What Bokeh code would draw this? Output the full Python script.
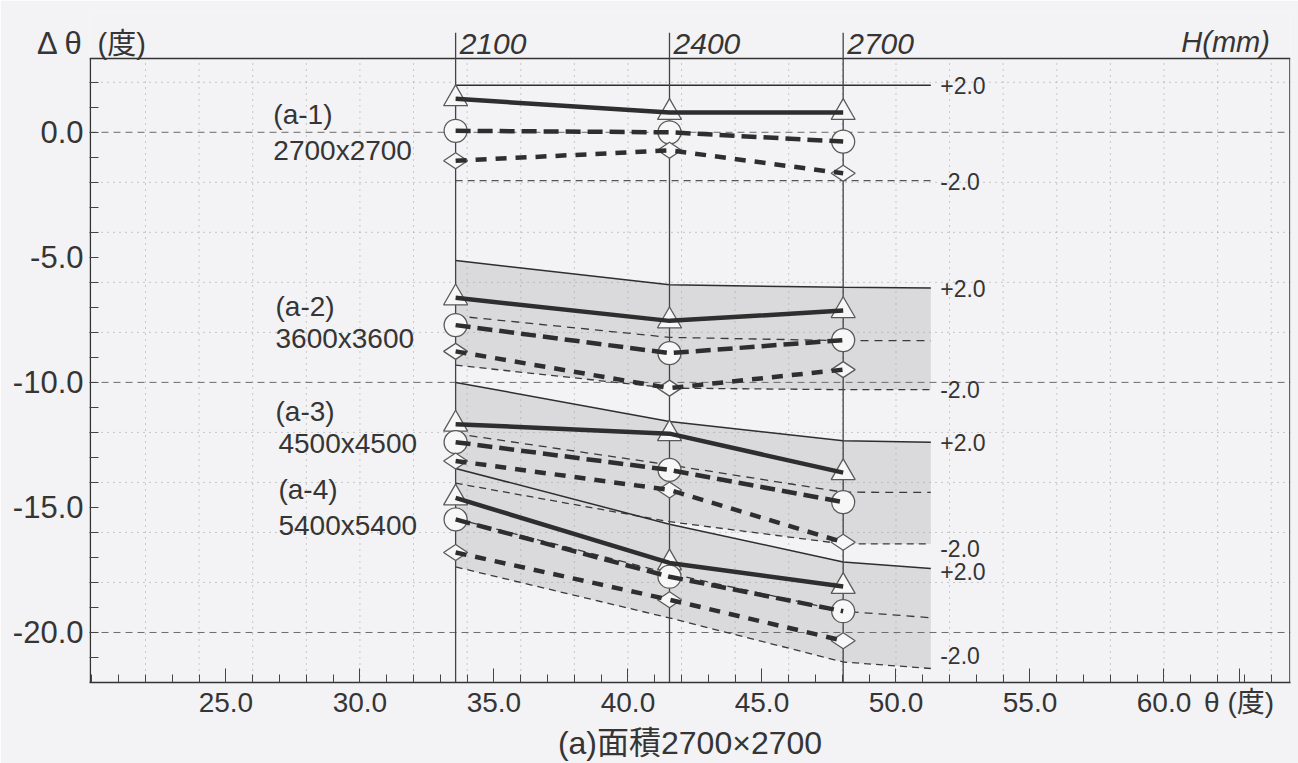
from math import pi
from bokeh.plotting import figure
from bokeh.models import Range1d, FixedTicker, PrintfTickFormatter
from bokeh.core.properties import value
from bokeh.embed import file_html
from bokeh.resources import INLINE

# ---------------- data ----------------
H_MM = [2100, 2400, 2700]                 # window height H (mm)
THETA_AT_H = [33.57, 41.55, 48.03]        # theta (deg) of each H line
BAND_END_THETA = 51.3                     # right end of the +-2.0 bands

GROUP_IDS = ["(a-1)", "(a-2)", "(a-3)", "(a-4)"]
GROUP_SIZES = ["2700x2700", "3600x3600", "4500x4500", "5400x5400"]

# three series per group (triangle / circle / diamond), values at 2100, 2400, 2700
a1_triangle = [1.34, 0.79, 0.79]
a1_circle = [0.06, 0.0, -0.37]
a1_diamond = [-1.14, -0.72, -1.64]

a2_triangle = [-6.62, -7.54, -7.13]
a2_circle = [-7.71, -8.83, -8.31]
a2_diamond = [-8.76, -10.23, -9.49]

a3_triangle = [-11.67, -12.05, -13.61]
a3_circle = [-12.39, -13.50, -14.79]
a3_diamond = [-13.14, -14.30, -16.39]

a4_triangle = [-14.62, -17.22, -18.16]
a4_circle = [-15.48, -17.77, -19.15]
a4_diamond = [-16.80, -18.69, -20.33]

# +-2.0 tolerance bands: values at 2100, 2400, 2700 and band end
a1_upper = [1.88, 1.88, 1.88, 1.88]
a1_lower = [-1.93, -1.93, -1.93, -1.93]

a2_upper = [-5.13, -6.10, -6.20, -6.23]
a2_mid = [-7.34, -8.20, -8.33, -8.33]
a2_lower = [-9.31, -10.23, -10.29, -10.29]

a3_upper = [-10.00, -11.56, -12.33, -12.39]
a3_mid = [-12.05, -13.30, -14.39, -14.40]
a3_lower = [-14.03, -15.57, -16.46, -16.46]

a4_upper = [-13.44, -15.67, -17.18, -17.44]
a4_mid = [-15.45, -17.64, -19.15, -19.41]
a4_lower = [-17.38, -19.42, -21.18, -21.44]

X_TICKS = [25, 30, 35, 40, 45, 50, 55, 60]
Y_TICKS = [0, -5, -10, -15, -20]
Y_TITLE = "Δ θ"
X_TITLE = "θ (度)"
UNIT_TOP = "(度)"
CAPTION = "(a)面積2700×2700"

# ---------------- styling ----------------
FONT = "Liberation Sans, Noto Sans CJK JP"
PAPER = "#f3f2f4"
INK = "#2e2e2e"
TXT = "#353535"
SHADE = "#dad9db"

X0, X1 = 19.91, 64.72
Y0, Y1 = -22.0, 4.83
FRAME_TOP = 2.95
Y_TITLE_POS = 3.55
X_TITLE_POS = 62.8

p = figure(width=1298, height=763, output_backend="svg", toolbar_location=None,
           x_range=Range1d(X0, X1), y_range=Range1d(Y0, Y1),
           min_border_left=89, min_border_right=8, min_border_top=11, min_border_bottom=70)
p.background_fill_color = PAPER
p.border_fill_color = PAPER
p.outline_line_color = None
p.grid.visible = False

# x axis
xa = p.xaxis[0]
xa.ticker = FixedTicker(ticks=X_TICKS + [X_TITLE_POS], minor_ticks=list(range(20, 65)))
xa.formatter = PrintfTickFormatter(format="%.1f")
xa.major_label_overrides = {X_TITLE_POS: X_TITLE}
xa.major_tick_in = 14
xa.major_tick_out = 0
xa.minor_tick_in = 8
xa.minor_tick_out = 0
xa.axis_line_color = "#333333"
xa.axis_line_width = 1.5
xa.major_tick_line_color = "#444444"
xa.minor_tick_line_color = "#444444"
xa.major_label_text_font = FONT
xa.major_label_text_font_size = "28px"
xa.major_label_text_color = TXT
xa.major_label_standoff = 4
xa.axis_label = CAPTION
xa.axis_label_text_font = FONT
xa.axis_label_text_font_size = "32px"
xa.axis_label_text_font_style = "normal"
xa.axis_label_text_color = TXT
xa.axis_label_standoff = 4

# y axis (all tick marks drawn as minor ticks; title rides on an extra tick)
ya = p.yaxis[0]
ya.ticker = FixedTicker(ticks=Y_TICKS + [Y_TITLE_POS], minor_ticks=list(range(-21, 3)))
ya.formatter = PrintfTickFormatter(format="%.1f")
ya.major_label_overrides = {Y_TITLE_POS: Y_TITLE}
ya.major_tick_in = 0
ya.major_tick_out = 0
ya.minor_tick_in = 9
ya.minor_tick_out = 0
ya.axis_line_color = None
ya.minor_tick_line_color = "#444444"
ya.major_label_text_font = FONT
ya.major_label_text_font_size = "31px"
ya.major_label_text_color = TXT
ya.major_label_standoff = 6

BAND_X = THETA_AT_H + [BAND_END_THETA]

# shaded bands (a-2 .. a-4)
for up, lo in [(a2_upper, a2_lower), (a3_upper, a3_lower), (a4_upper, a4_lower)]:
    p.patch(BAND_X + BAND_X[::-1], up + lo[::-1], fill_color=SHADE, line_color=None)

# grid: dotted every 2, dashed at 0/-10/-20
grid_x = list(range(22, 65, 2))
p.segment(x0=grid_x, y0=[Y0] * len(grid_x), x1=grid_x, y1=[FRAME_TOP] * len(grid_x),
          line_color="#9c9c9c", line_width=1, line_dash="1 5")
dotted_y = [2, -2, -4, -6, -8, -12, -14, -16, -18]
p.segment(x0=[X0] * len(dotted_y), y0=dotted_y, x1=[X1] * len(dotted_y), y1=dotted_y,
          line_color="#9c9c9c", line_width=1, line_dash="1 5")
dashed_y = [0, -10, -20]
p.segment(x0=[X0] * 3, y0=dashed_y, x1=[X1] * 3, y1=dashed_y,
          line_color="#6a6a6a", line_width=1, line_dash="7 5")

# frame border (top, right, left)
p.line([X0, X1], [FRAME_TOP, FRAME_TOP], line_color="#333333", line_width=1.5)
p.line([X1 - 0.03, X1 - 0.03], [Y0, FRAME_TOP], line_color="#555555", line_width=1.2)
p.line([X0 + 0.03, X0 + 0.03], [Y0, FRAME_TOP], line_color="#333333", line_width=1.5)

# band lines
p.line(BAND_X, a1_upper, line_color=INK, line_width=1.5)
p.line(BAND_X, a1_lower, line_color="#555555", line_width=1.2, line_dash="7 5")
for up, mid, lo in [(a2_upper, a2_mid, a2_lower), (a3_upper, a3_mid, a3_lower),
                    (a4_upper, a4_mid, a4_lower)]:
    p.line(BAND_X, up, line_color=INK, line_width=1.5)
    p.line(BAND_X, mid, line_color="#3a3a3a", line_width=1.3, line_dash="8 6")
    p.line(BAND_X, lo, line_color="#3a3a3a", line_width=1.3, line_dash="7 5")

# H vertical lines, extending above the frame
p.segment(x0=THETA_AT_H, y0=[Y0] * 3, x1=THETA_AT_H, y1=[3.98] * 3,
          line_color="#444444", line_width=1.3)

# markers
MK = dict(fill_color="#f8f7f8", line_color="#5a5a5a", line_width=1.3)
tri_all = [a1_triangle, a2_triangle, a3_triangle, a4_triangle]
cir_all = [a1_circle, a2_circle, a3_circle, a4_circle]
dia_all = [a1_diamond, a2_diamond, a3_diamond, a4_diamond]
for t, c, d in zip(tri_all, cir_all, dia_all):
    p.scatter(THETA_AT_H, t, marker="triangle", size=24, **MK)
    p.scatter(THETA_AT_H, c, marker="circle", size=23, **MK)
    p.scatter(THETA_AT_H, d, marker="diamond", size=24, angle=pi / 2, **MK)

# thick series lines on top
for t, c, d in zip(tri_all, cir_all, dia_all):
    p.line(THETA_AT_H, t, line_color=INK, line_width=4.5)
    p.line(THETA_AT_H, c, line_color=INK, line_width=4.5, line_dash="15 7")
    p.line(THETA_AT_H, d, line_color=INK, line_width=4.5, line_dash="11 9")

# group labels
gid_x = [26.77, 26.85, 26.85, 26.96]
gid_y = [0.72, -6.95, -11.15, -14.30]
gsz_x = [26.77, 26.85, 26.96, 26.96]
gsz_y = [-0.74, -8.26, -12.46, -15.72]
TXTKW = dict(text_font=value(FONT), text_color=TXT, text_baseline="middle", text_align="left")
p.text(x=gid_x, y=gid_y, text=GROUP_IDS, text_font_size="28px", **TXTKW)
p.text(x=gsz_x, y=gsz_y, text=GROUP_SIZES, text_font_size="28px", **TXTKW)

# +2.0 / -2.0 band labels
lab_x = [51.65] * 8
lab_y = [a1_upper[-1], a1_lower[-1] - 0.05, a2_upper[-1], a2_lower[-1],
         a3_upper[-1], a3_lower[-1] - 0.2, a4_upper[-1] - 0.13, a4_lower[-1] + 0.52]
lab_t = ["+2.0", "-2.0"] * 4
p.text(x=lab_x, y=lab_y, text=lab_t, text_font_size="23px", **TXTKW)

# H labels on top, unit of the y title, H(mm)
p.text(x=[t + 0.15 for t in THETA_AT_H], y=[3.55] * 3, text=[str(h) for h in H_MM],
       text_font_size="30px", text_font_style="italic", **TXTKW)
p.text(x=[20.21], y=[Y_TITLE_POS], text=[UNIT_TOP], text_font_size="29px", **TXTKW)
p.text(x=[63.95], y=[3.6], text=["H(mm)"], text_font=value(FONT), text_font_size="29px",
       text_font_style="italic", text_color=TXT, text_baseline="middle", text_align="right")

open("out.html", "w").write(file_html(p, INLINE))
